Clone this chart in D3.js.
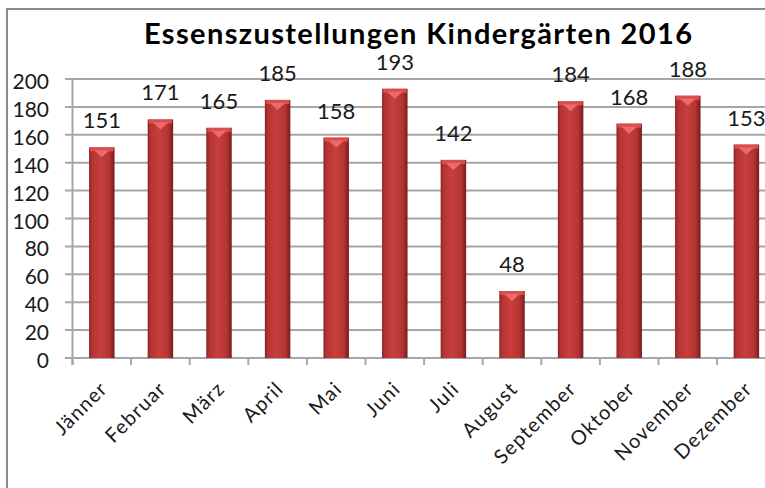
<!DOCTYPE html>
<html><head><meta charset="utf-8">
<script src="https://cdn.jsdelivr.net/npm/d3@7"></script>
<style>body{margin:0;background:#fff}svg{display:block}</style>
</head><body><svg id="c" width="765" height="488"></svg>
<script>
const categories = ["Jänner","Februar","März","April","Mai","Juni","Juli","August","September","Oktober","November","Dezember"];
const values = [151,171,165,185,158,193,142,48,184,168,188,153];
const yTicks = [0,20,40,60,80,100,120,140,160,180,200];
const title = "Essenszustellungen Kindergärten 2016";

const svg = d3.select("#c");
const W = 765;
const left = 72.5, step = 58.6;
const x = d3.scaleBand().domain(categories).range([left, left + step*categories.length]).paddingInner(0.565).paddingOuter(0.2825);
const y = d3.scaleLinear().domain([0,200]).range([358, 79]);

const defs = svg.append("defs");
const g1 = defs.append("linearGradient").attr("id","bar").attr("x1",0).attr("x2",1).attr("y1",0).attr("y2",0);
[[0,"#8e2424"],[0.12,"#b33434"],[0.45,"#c83e3e"],[0.8,"#b53434"],[1,"#7a1c1c"]].forEach(s=>g1.append("stop").attr("offset",s[0]).attr("stop-color",s[1]));

// border
svg.append("path").attr("d","M7,495 L7,9 L775,9").attr("fill","none").attr("stroke","#8c8c8c").attr("stroke-width",2);

// grid
svg.append("g").selectAll("line").data(yTicks).join("line")
  .attr("x1",65).attr("x2",W).attr("y1",d=>y(d)).attr("y2",d=>y(d))
  .attr("stroke","#a6a6a6").attr("stroke-width",2);

// y axis line
svg.append("line").attr("x1",left).attr("x2",left).attr("y1",y(200)).attr("y2",y(0)+7).attr("stroke","#a6a6a6").attr("stroke-width",2);
// x ticks
const tickXs = d3.range(categories.length+1).map(i=>left + i*step);
svg.append("g").selectAll("line").data(tickXs).join("line")
  .attr("x1",d=>d).attr("x2",d=>d).attr("y1",y(0)).attr("y2",y(0)+7)
  .attr("stroke","#a6a6a6").attr("stroke-width",2);

const lab = "Lato";
// y labels
svg.append("g").selectAll("text").data(yTicks).join("text")
  .attr("x",49).attr("y",d=>y(d)+10).attr("text-anchor","end")
  .attr("font-family",lab).attr("font-size",21).attr("fill","#1a1a1a")
  .text(d=>d);

// bars
const bw = x.bandwidth();
const bars = svg.append("g").selectAll("g").data(values).join("g");
bars.append("rect").attr("x",(d,i)=>x(categories[i])).attr("y",d=>y(d)).attr("width",bw).attr("height",d=>y(0)-y(d)).attr("fill","url(#bar)");
bars.append("rect").attr("x",(d,i)=>x(categories[i])+1).attr("y",d=>y(d)).attr("width",bw-2).attr("height",4).attr("fill","#dc4e4e");
bars.append("path").attr("d",(d,i)=>{const x0=x(categories[i]),x1=x0+bw,yt=y(d)+3,cx=x0+bw/2;return `M${x0+5},${yt} L${x1-5},${yt} L${cx},${yt+7} Z`;}).attr("fill","#ec6a6a");

// value labels
svg.append("g").selectAll("text").data(values).join("text")
  .attr("x",(d,i)=>x(categories[i])+bw/2).attr("y",d=>y(d)-19).attr("text-anchor","middle")
  .attr("font-family",lab).attr("font-size",22).attr("fill","#1a1a1a")
  .text(d=>d);

// x labels
svg.append("g").selectAll("text").data(categories).join("text")
  .attr("transform",(d)=>`translate(${x(d)+bw/2+7},${y(0)+32}) rotate(-45)`)
  .attr("text-anchor","end")
  .attr("font-family",lab).attr("font-size",20).attr("letter-spacing",1.2).attr("fill","#1a1a1a")
  .text(d=>d);

// title
svg.append("text").attr("x",418).attr("y",44).attr("text-anchor","middle")
  .attr("font-family","Lato").attr("font-weight","bold").attr("font-size",29).attr("fill","#000")
  .attr("textLength",548).attr("lengthAdjust","spacing")
  .text(title);
</script></body></html>
